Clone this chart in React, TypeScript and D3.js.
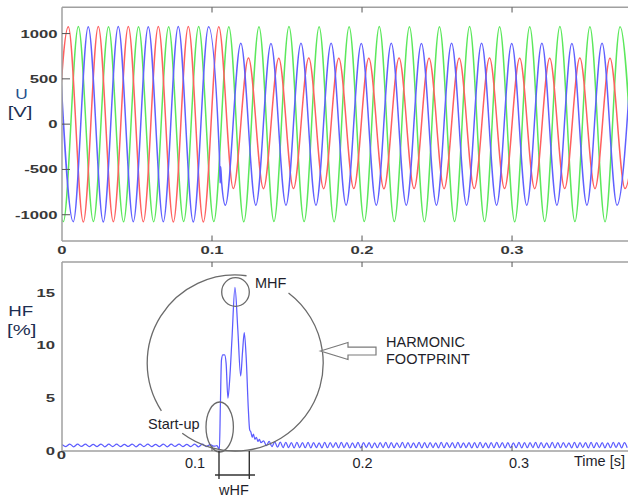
import React from "react";
import * as d3 from "d3";

// phase voltages: extrema, time in ms, value in V
const uaTimes = [-5.8, 4.2, 14.2, 24.2, 34.2, 44.2, 54.2, 64.2, 74.2, 84.2, 94.2, 104.5, 114.2, 124.3, 134.3, 144.5, 154.3, 164.5, 174.4, 184.5, 194.5, 204.5, 214.6, 224.7, 234.7, 244.7, 254.7, 264.8, 274.8, 285.0, 295.0, 305.1, 315.1, 325.1, 335.1, 345.2, 355.3, 365.3, 375.3, 385.3];
const uaValues = [-1078, 1076, -1080, 1078, -1077, 1079, -1078, 1077, -1080, 1078, -1079, 1076, -711, 730, -712, 728, -710, 729, -712, 727, -711, 728, -713, 729, -711, 727, -712, 728, -710, 729, -711, 728, -712, 727, -711, 729, -712, 728, -711, 728];

const ubTimes = [-9.2, 0.9, 10.9, 20.9, 31.0, 41.0, 51.0, 61.1, 71.1, 81.1, 91.1, 101.2, 111.2, 121.2, 131.3, 141.3, 151.3, 161.4, 171.4, 181.4, 191.4, 201.5, 211.5, 221.5, 231.6, 241.6, 251.6, 261.7, 271.7, 281.7, 291.7, 301.8, 311.8, 321.8, 331.9, 341.9, 351.9, 362.0, 372.0, 382.0];
const ubValues = [1075, -1076, 1077, -1075, 1076, -1078, 1075, -1077, 1076, -1075, 1077, -1076, 1075, -1078, 1076, -1075, 1077, -1076, 1075, -1077, 1076, -1075, 1078, -1076, 1075, -1077, 1076, -1075, 1077, -1076, 1075, -1078, 1076, -1075, 1077, -1076, 1075, -1077, 1076, -1075];

const ucTimes = [-2.5, 7.5, 17.5, 27.5, 37.5, 47.5, 57.5, 67.5, 77.5, 87.5, 97.7, 105.0, 105.4, 105.8, 106.4, 108.9, 119.2, 129.2, 139.3, 149.3, 159.3, 169.3, 179.4, 189.4, 199.5, 209.5, 219.5, 229.5, 239.6, 249.6, 259.7, 269.7, 279.7, 289.7, 299.8, 309.8, 319.9, 329.9, 339.9, 349.9, 360.0, 370.0, 380.1];
const ucValues = [1077, -1078, 1076, -1079, 1078, -1077, 1076, -1078, 1077, -1079, 1076, -380, -650, -470, -640, -895, 892, -894, 891, -896, 893, -895, 892, -894, 890, -895, 893, -896, 891, -894, 892, -895, 893, -894, 891, -896, 892, -895, 890, -894, 892, -895, 893];

// harmonic factor HF [%]
const hfPreStep = 2.6; // ms between samples
const hfPre = [0.62, 0.42, 0.66, 0.4, 0.64, 0.43, 0.65, 0.41, 0.63, 0.42, 0.66, 0.4, 0.64, 0.42, 0.65, 0.41, 0.63, 0.43, 0.66, 0.4,
  0.64, 0.42, 0.65, 0.41, 0.63, 0.42, 0.66, 0.4, 0.64, 0.43, 0.65, 0.41, 0.63, 0.42, 0.65, 0.4, 0.64, 0.42, 0.6, 0.45];
const hfBurst = [
  [103.3, 0.5], [104.2, 0.3], [104.9, 0.05], [105.6, 4.5], [106.3, 8.6], [107.2, 9.1], [108.4, 9.1], [109.4, 8.3],
  [110.6, 5.0], [111.8, 6.8], [113.3, 10.6], [115.3, 15.5], [117.2, 11.5], [119.1, 7.1], [120.3, 9.3], [121.5, 11.2],
  [122.8, 8.8], [124.2, 4.0], [125.1, 2.0], [125.9, 1.8], [126.8, 1.3], [127.6, 1.6], [128.6, 1.1], [129.6, 1.3],
  [130.6, 0.9], [131.6, 1.1], [132.6, 0.8],
];
const hfPostStart = 134.4;
const hfPostStep = 1.85;
const hfPost = [
  0.95, 0.5, 0.9, 0.42, 0.86, 0.36, 0.84, 0.33, 0.82, 0.32, 0.8, 0.3, 0.82, 0.33, 0.79, 0.31, 0.81, 0.3, 0.8, 0.32,
  0.78, 0.3, 0.82, 0.31, 0.8, 0.33, 0.79, 0.3, 0.81, 0.32, 0.8, 0.29, 0.78, 0.31, 0.82, 0.3, 0.79, 0.33, 0.8, 0.3,
  0.77, 0.31, 0.8, 0.32, 0.82, 0.3, 0.79, 0.31, 0.78, 0.33, 0.81, 0.3, 0.8, 0.31, 0.78, 0.32, 0.82, 0.3, 0.79, 0.31,
  0.8, 0.32, 0.78, 0.3, 0.81, 0.31, 0.79, 0.33, 0.8, 0.3, 0.82, 0.31, 0.78, 0.32, 0.8, 0.3, 0.79, 0.31, 0.81, 0.32,
  0.78, 0.3, 0.8, 0.31, 0.82, 0.33, 0.79, 0.3, 0.8, 0.31, 0.78, 0.32, 0.81, 0.3, 0.8, 0.31, 0.79, 0.33, 0.82, 0.3,
  0.8, 0.31, 0.78, 0.32, 0.81, 0.3, 0.79, 0.31, 0.8, 0.33, 0.78, 0.3, 0.82, 0.31, 0.79, 0.32, 0.8, 0.3, 0.81, 0.31,
  0.79, 0.32, 0.8, 0.3, 0.78, 0.31, 0.81, 0.33, 0.8, 0.3, 0.79, 0.31,
];

const timeTicks = [0, 0.1, 0.2, 0.3];
const uTicks = [-1000, -500, 0, 500, 1000];
const hfTicks = [0, 5, 10, 15];

const W = 628;
const H = 497;
const left = 62;
const right = 628;

const tickFont = { fontFamily: "'Liberation Sans', Arial, sans-serif", fontWeight: 700, fontSize: 11.5, fill: "#383838" };
const labelFont = { fontFamily: "'Liberation Sans', Arial, sans-serif", fontSize: 15, fill: "#1d2f52" };
const noteFont = { fontFamily: "'Liberation Sans', Arial, sans-serif", fontSize: 14.5, fill: "#1e1e2a" };

const App = () => {
  const x = d3.scaleLinear().domain([0, 0.3773]).range([left, right]);
  const yU = d3.scaleLinear().domain([-1290, 1290]).range([241, 7.3]);
  const yHF = d3.scaleLinear().domain([0, 17.9]).range([451, 262]);

  const uLine = d3.line<number[]>()
    .x(d => x(d[0] / 1000))
    .y(d => yU(d[1]))
    .curve(d3.curveMonotoneX);
  const hfLine = d3.line<number[]>()
    .x(d => x(d[0] / 1000))
    .y(d => yHF(d[1]))
    .curve(d3.curveMonotoneX);

  const ua = uaTimes.map((t, i) => [t, uaValues[i]]);
  const ub = ubTimes.map((t, i) => [t, ubValues[i]]);
  const uc = ucTimes.map((t, i) => [t, ucValues[i]]);
  const hf = [
    ...hfPre.map((v, i) => [i * hfPreStep, v]),
    ...hfBurst,
    ...hfPost.map((v, i) => [hfPostStart + i * hfPostStep, v]),
  ];

  // big "footprint" circle with two gaps for the labels
  const cx = 235.2, cy = 363, r = 88;
  const deg = Math.PI / 180;
  const arc1 = d3.path();
  arc1.arc(cx, cy, r, -52.7 * deg, 127 * deg);
  const arc2 = d3.path();
  arc2.arc(cx, cy, r, 147 * deg, 277.4 * deg);

  const stretch = (px, py, s = 1.45) => `translate(${px},${py}) scale(${s},1)`;

  return (
    <svg width={W} height={H} style={{ position: "absolute", left: 0, top: 0, display: "block" }}>
      <rect width={W} height={H} fill="#fff" />
      <defs>
        <clipPath id="clipU"><rect x={left} y={7.3} width={right - left} height={241 - 7.3} /></clipPath>
        <clipPath id="clipHF"><rect x={left} y={262} width={right - left} height={451 - 262} /></clipPath>
      </defs>

      {/* top panel: voltages */}
      <g clipPath="url(#clipU)" fill="none" strokeWidth={1.5}>
        <path d={uLine(ub)} stroke="#5ce85c" />
        <path d={uLine(ua)} stroke="#ff6060" />
        <path d={uLine(uc)} stroke="#6060ff" />
      </g>
      <g stroke="#a0a0a0" strokeWidth={1.5} fill="none">
        <line x1={left} x2={right} y1={7.3} y2={7.3} />
        <line x1={left} x2={right} y1={241} y2={241} />
        <line x1={left} x2={left} y1={7.3} y2={241} />
      </g>
      <g stroke="#555" strokeWidth={1}>
        {uTicks.map(v => <line key={v} x1={left} x2={left + 8} y1={yU(v)} y2={yU(v)} />)}
        {timeTicks.slice(1).map(t => (
          <g key={t}>
            <line x1={x(t)} x2={x(t)} y1={7.3} y2={12.5} />
            <line x1={x(t)} x2={x(t)} y1={241} y2={235.5} />
          </g>
        ))}
      </g>
      {uTicks.map(v => (
        <text key={v} transform={stretch(57.5, yU(v) + 4)} textAnchor="end" {...tickFont}>{v}</text>
      ))}
      {timeTicks.map(t => (
        <text key={t} transform={stretch(x(t), 253.5)} textAnchor="middle" {...tickFont}>{t}</text>
      ))}
      <text transform={stretch(21.5, 98.5, 1.15)} textAnchor="middle" {...labelFont} fill="#24508c">U</text>
      <text transform={stretch(20, 117, 1.35)} textAnchor="middle" {...labelFont}>[V]</text>

      {/* bottom panel: HF */}
      <g clipPath="url(#clipHF)">
        <path d={hfLine(hf)} fill="none" stroke="#5c5cff" strokeWidth={1.25} />
      </g>
      <g stroke="#a0a0a0" strokeWidth={1.5} fill="none">
        <line x1={left} x2={right} y1={262} y2={262} />
        <line x1={left} x2={right} y1={451} y2={451} />
        <line x1={left} x2={left} y1={262} y2={451} />
      </g>
      <g stroke="#555" strokeWidth={1}>
        {timeTicks.slice(1).map(t => (
          <g key={t}>
            <line x1={x(t)} x2={x(t)} y1={262} y2={267} />
            <line x1={x(t)} x2={x(t)} y1={451} y2={446} />
          </g>
        ))}
      </g>
      {hfTicks.map(v => (
        <text key={v} transform={stretch(55, yHF(v) + (v === 0 ? 3.5 : 4))} textAnchor="end" {...tickFont}>{v}</text>
      ))}
      <text transform={stretch(61.5, 458.5)} textAnchor="middle" {...tickFont}>0</text>
      <text transform={stretch(20.8, 315.5, 1.25)} textAnchor="middle" {...labelFont}>HF</text>
      <text transform={stretch(21.7, 334.5, 1.35)} textAnchor="middle" {...labelFont}>[%]</text>

      <text x={195} y={468} textAnchor="middle" {...noteFont}>0.1</text>
      <text x={362.5} y={468} textAnchor="middle" {...noteFont}>0.2</text>
      <text x={519} y={468} textAnchor="middle" {...noteFont}>0.3</text>
      <text x={574} y={466} {...noteFont}>Time [s]</text>

      {/* annotations */}
      <g fill="none" stroke="#6a6a6a" strokeWidth={1.3}>
        <path d={arc1.toString()} />
        <path d={arc2.toString()} />
        <ellipse cx={235.5} cy={292} rx={13.8} ry={14.3} />
        <ellipse cx={219.7} cy={427} rx={13.7} ry={25} />
      </g>
      <path
        d="M320.5,351 L348,342.5 L348,347.2 L376,347.2 L376,355 L348,355 L348,359.5 Z"
        fill="#fff" stroke="#7a7a7a" strokeWidth={1.2}
      />
      <g stroke="#333" strokeWidth={1.4}>
        <line x1={219} x2={219} y1={451} y2={479} />
        <line x1={249.3} x2={249.3} y1={451} y2={479} />
        <line x1={215} x2={255} y1={475} y2={475} />
      </g>
      <text x={255} y={288.3} {...noteFont}>MHF</text>
      <text x={148} y={429} {...noteFont}>Start-up</text>
      <text x={386} y={346.7} {...noteFont}>HARMONIC</text>
      <text x={386} y={364} {...noteFont}>FOOTPRINT</text>
      <text x={234} y={495} textAnchor="middle" {...noteFont}>wHF</text>
    </svg>
  );
};

export default App;
